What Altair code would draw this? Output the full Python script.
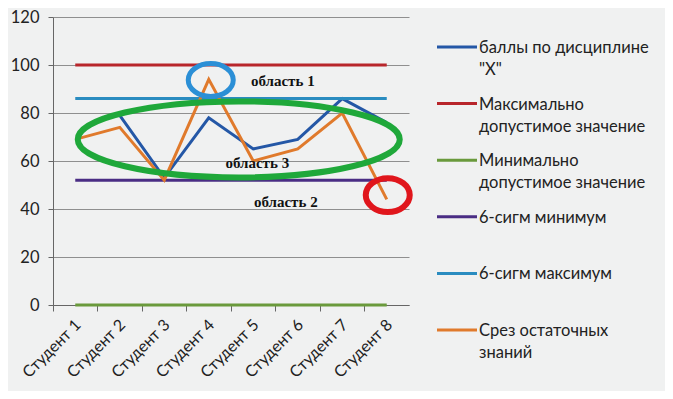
import altair as alt
import pandas as pd

students = ["Студент 1", "Студент 2", "Студент 3", "Студент 4",
            "Студент 5", "Студент 6", "Студент 7", "Студент 8"]

series_names = ['баллы по дисциплине "X"', "Максимально допустимое значение",
                "Минимально допустимое значение", "6-сигм минимум",
                "6-сигм максимум", "Срез остаточных знаний"]
legend_labels = ['баллы по дисциплине\n"X"',
                 "Максимально\nдопустимое значение",
                 "Минимально\nдопустимое значение",
                 "6-сигм минимум",
                 "6-сигм максимум",
                 "Срез остаточных\nзнаний"]
series_colors = ["#2457a6", "#b8262b", "#6a9a3c", "#4a2d84", "#2a8cc0", "#e07a2c"]

# first point of the blue series is not visible in the picture (hidden under the ellipse)
scores_x = [None, 79, 53, 78, 65, 69, 86, 76]
max_allowed = [100, 100, 100, 100, 100, 100, 100, 100]
min_allowed = [0, 0, 0, 0, 0, 0, 0, 0]
sigma_min = [52, 52, 52, 52, 52, 52, 52, 52]
sigma_max = [86, 86, 86, 86, 86, 86, 86, 86]
residual = [69, 74, 52, 94, 60, 65, 80, 44]

y_ticks = [0, 20, 40, 60, 80, 100, 120]

# annotations
area_labels = ["область 1", "область 3", "область 2"]
area_students = ["Студент 6", "Студент 5", "Студент 6"]
area_values = [93.5, 59, 43]

all_series = [scores_x, max_allowed, min_allowed, sigma_min, sigma_max, residual]
rows = []
for name, vals in zip(series_names, all_series):
    for s, v in zip(students, vals):
        if v is not None:
            rows.append({"series": name, "student": s, "value": v})
df = pd.DataFrame(rows)

color_scale = alt.Scale(domain=series_names, range=series_colors)

x_enc = alt.X("student:N", sort=students,
              scale=alt.Scale(type="band", domain=students, paddingInner=0, paddingOuter=0),
              axis=alt.Axis(title=None, labelAngle=-45, labelAlign="right", labelBaseline="middle",
                            bandPosition=0, labelOffset=3, labelPadding=11,
                            tickSize=6, tickColor="#666", domainColor="#666",
                            labelFont="Lato", labelFontSize=16, labelColor="#222", grid=False))
y_enc = alt.Y("value:Q", scale=alt.Scale(domain=[0, 120], nice=False, zero=True),
              axis=alt.Axis(title=None, values=y_ticks, tickSize=5, tickColor="#666",
                            domainColor="#666", labelFont="Lato", labelFontSize=16.5,
                            labelColor="#222", labelPadding=9, gridColor="#8f8f8f",
                            gridWidth=1))

lines = alt.Chart(df).mark_line(strokeWidth=3).encode(
    x=x_enc, y=y_enc,
    color=alt.Color("series:N", sort=series_names, scale=color_scale, legend=None),
    order=alt.Order("series:N"),
)

def ellipse(student, value, ratio, width, color, sw, xoff):
    path = f"M-1,0A1,{ratio},0,1,0,1,0A1,{ratio},0,1,0,-1,0Z"
    d = pd.DataFrame({"student": [student], "value": [value]})
    return alt.Chart(d).mark_point(shape=path, size=width * width, filled=False,
                                   strokeWidth=sw, color=color, opacity=1,
                                   xOffset=xoff).encode(
        x=alt.X("student:N", sort=students), y="value:Q")

green_ell = ellipse("Студент 4", 69, 0.236, 322, "#1fa83a", 6, 30)
blue_ell = ellipse("Студент 4", 93.75, 0.73, 45, "#2b8fd6", 5, 2)
red_ell = ellipse("Студент 8", 45.8, 0.77, 44, "#e0161c", 6, 1)

texts = []
offsets = [-15, 4, -12]
for lab, st, val, off in zip(area_labels, area_students, area_values, offsets):
    d = pd.DataFrame({"student": [st], "value": [val], "label": [lab]})
    texts.append(alt.Chart(d).mark_text(font="Liberation Serif", fontSize=15,
                                        fontWeight="bold", color="#111",
                                        xOffset=off).encode(
        x=alt.X("student:N", sort=students), y="value:Q", text="label:N"))

main = alt.layer(lines, blue_ell, green_ell, red_ell, *texts)

# legend drawn beside the plot
leg_df = pd.DataFrame({"series": series_names, "label": legend_labels})
leg_y = alt.Y("series:N", sort=series_names,
              scale=alt.Scale(type="point", domain=series_names, range=[30, 313], padding=0),
              axis=None)
leg_rules = alt.Chart(leg_df).mark_rule(strokeWidth=3).encode(
    x=alt.value(384), x2=alt.value(424), y=leg_y,
    color=alt.Color("series:N", sort=series_names, scale=color_scale, legend=None))
leg_text = alt.Chart(leg_df).mark_text(align="left", baseline="alphabetic", dy=6,
                                       lineBreak="\n", lineHeight=22, font="Lato",
                                       fontSize=16.5, color="#222").encode(
    x=alt.value(426), y=leg_y, text="label:N")
legend = alt.layer(leg_rules, leg_text)

chart = alt.layer(main, legend).resolve_scale(y="independent").properties(
    width=356, height=288,
    background="#f0f1f1",
    autosize=alt.AutoSizeParams(type="none"),
    padding={"left": 45, "top": 9, "right": 256, "bottom": 86},
).configure_view(stroke=None)

chart.save("out.html", embed_options={"renderer": "svg", "actions": False})
